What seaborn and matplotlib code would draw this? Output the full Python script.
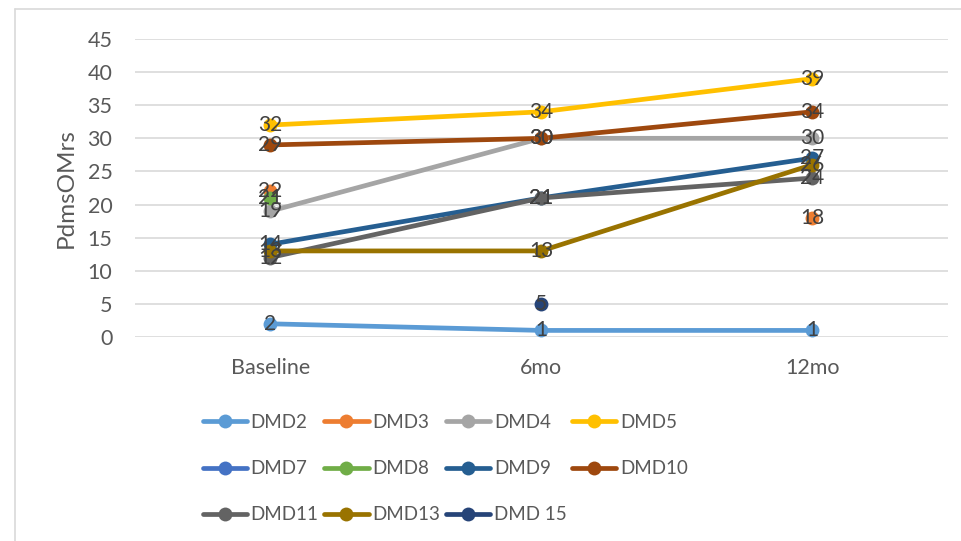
import numpy as np
import pandas as pd
import seaborn as sns
import matplotlib.pyplot as plt
from matplotlib.lines import Line2D

# Time points and scores per patient (NaN = no assessment)
timepoints = ["Baseline", "6mo", "12mo"]
dmd2 = [2, 1, 1]
dmd3 = [22, np.nan, 18]
dmd4 = [19, 30, 30]
dmd5 = [32, 34, 39]
dmd7 = [np.nan, np.nan, np.nan]
dmd8 = [21, np.nan, np.nan]
dmd9 = [14, 21, 27]
dmd10 = [29, 30, 34]
dmd11 = [12, 21, 24]
dmd13 = [13, 13, 26]
dmd15 = [np.nan, 5, np.nan]

series_names = ["DMD2", "DMD3", "DMD4", "DMD5", "DMD7", "DMD8",
                "DMD9", "DMD10", "DMD11", "DMD13", "DMD 15"]
series_values = [dmd2, dmd3, dmd4, dmd5, dmd7, dmd8,
                 dmd9, dmd10, dmd11, dmd13, dmd15]
series_colors = ["#5B9BD5", "#ED7D31", "#A5A5A5", "#FFC000", "#4472C4",
                 "#70AD47", "#255E91", "#9E480E", "#636363", "#997300",
                 "#264478"]

rows = []
for name, vals in zip(series_names, series_values):
    for i, (t, v) in enumerate(zip(timepoints, vals)):
        rows.append({"patient": name, "time": t, "x": i, "score": v})
df = pd.DataFrame(rows)

sns.set_theme(style="white")
plt.rcParams["font.family"] = ["Lato", "DejaVu Sans"]

fig = plt.figure(figsize=(9.62, 5.41), dpi=100)
ax = fig.add_axes([0.140, 0.377, 0.845, 0.551])

text_color = "#595959"
label_color = "#404040"
lw = 3.4
ms = 10

for name, color in zip(series_names, series_colors):
    sub = df[df["patient"] == name]
    # split into runs of consecutive observed points so gaps stay open
    seg_id = sub["score"].isna().cumsum()
    observed = sub["score"].notna()
    for _, seg in sub[observed].groupby(seg_id[observed]):
        if len(seg) > 1:
            sns.lineplot(data=seg, x="x", y="score", ax=ax, color=color,
                         linewidth=lw, estimator=None, sort=False,
                         legend=False, zorder=3)
    obs = sub.dropna()
    if len(obs):
        sns.scatterplot(data=obs, x="x", y="score", ax=ax, color=color,
                        s=ms ** 2, linewidth=0, legend=False, zorder=4)
    for _, r in obs.iterrows():
        ax.text(r["x"], r["score"], f"{int(r['score'])}", ha="center",
                va="center", fontsize=15, color=label_color, zorder=5)

ax.set_xlim(-0.5, 2.5)
ax.set_ylim(0, 45)
ax.set_yticks(range(0, 46, 5))
ax.set_xticks(range(len(timepoints)))
ax.set_xticklabels(timepoints)
ax.yaxis.grid(True, color="#D9D9D9", linewidth=1.2)
ax.set_axisbelow(True)
for s in ax.spines.values():
    s.set_visible(False)
ax.tick_params(axis="both", length=0, labelsize=15.5, colors=text_color)
ax.tick_params(axis="x", pad=15)
ax.tick_params(axis="y", pad=16)
ax.set_xlabel("")
ax.set_ylabel("PdmsOMrs", fontsize=17.5, color=text_color, labelpad=8)

# legend entries laid out row by row (matplotlib fills columns first)
handles = [Line2D([0], [0], color=c, linewidth=lw, marker="o",
                  markersize=ms, markeredgewidth=0)
           for c in series_colors]
order = [0, 4, 8, 1, 5, 9, 2, 6, 10, 3, 7]
fig.legend([handles[i] for i in order], [series_names[i] for i in order],
           loc="upper left", bbox_to_anchor=(0.201, 0.252), ncol=4,
           frameon=False, fontsize=13.5, labelcolor=text_color,
           handlelength=2.36, handletextpad=0.2, columnspacing=0.3,
           labelspacing=1.55, borderpad=0)

# chart frame
fig.add_artist(Line2D([15 / 962, 15 / 962], [0, 1 - 9 / 541],
                      transform=fig.transFigure, color="#D9D9D9", lw=1.2))
fig.add_artist(Line2D([15 / 962, 1], [1 - 9 / 541, 1 - 9 / 541],
                      transform=fig.transFigure, color="#D9D9D9", lw=1.2))

fig.savefig("out.png", dpi=100)
